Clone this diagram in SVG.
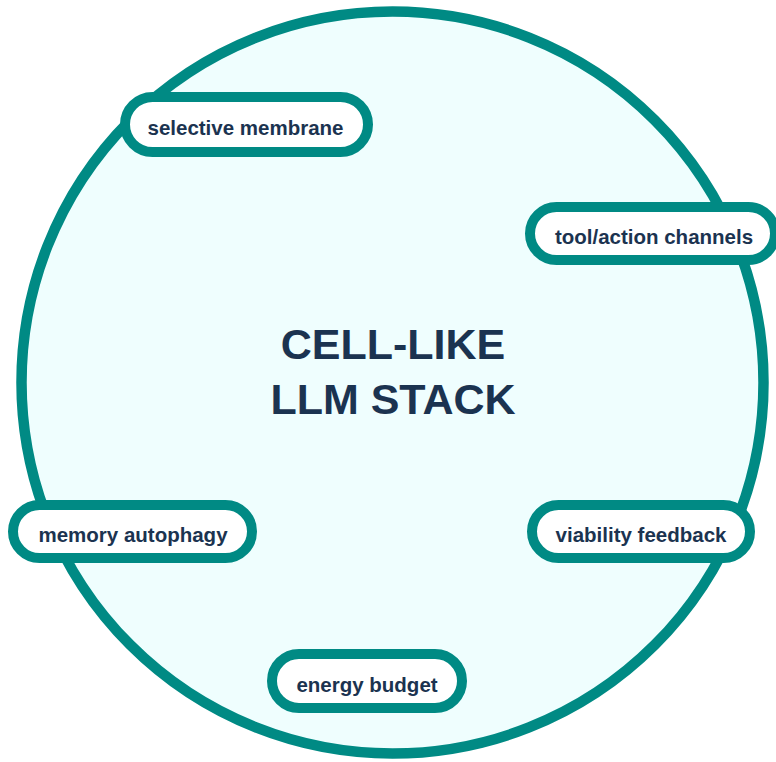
<svg xmlns="http://www.w3.org/2000/svg" width="776" height="762" viewBox="0 0 776 762">
<style>
.cell{fill:#effefe;stroke:#008a84;stroke-width:10.5}
.pill{fill:#ffffff;stroke:#008a84;stroke-width:10}
.lbl{font-family:"Liberation Sans",Arial,sans-serif;font-weight:bold;font-size:20.5px;fill:#1b3350;text-anchor:middle}
.title{font-family:"Liberation Sans",Arial,sans-serif;font-weight:bold;font-size:43px;fill:#1b3350;text-anchor:middle}
</style>
<rect width="776" height="762" fill="#ffffff"/>
<g id="cell">
<circle class="cell" cx="392.5" cy="382.5" r="371"/>
<text class="title" x="393" y="359">CELL-LIKE</text>
<text class="title" x="393" y="414">LLM STACK</text>
</g>
<g id="connectors"></g>
<g id="selective-membrane">
<rect class="pill" x="125" y="97" width="243" height="55" rx="27.5"/>
<text class="lbl" x="245.5" y="135">selective membrane</text>
</g>
<g id="tool-action-channels">
<rect class="pill" x="530" y="207" width="245" height="53" rx="26.5"/>
<text class="lbl" x="654" y="244">tool/action channels</text>
</g>
<g id="memory-autophagy">
<rect class="pill" x="13" y="505" width="239" height="53" rx="26.5"/>
<text class="lbl" x="133" y="542">memory autophagy</text>
</g>
<g id="viability-feedback">
<rect class="pill" x="532" y="505" width="218" height="53" rx="26.5"/>
<text class="lbl" x="641" y="542">viability feedback</text>
</g>
<g id="energy-budget">
<rect class="pill" x="272" y="654" width="190" height="54" rx="27"/>
<text class="lbl" x="367" y="692">energy budget</text>
</g>
</svg>
